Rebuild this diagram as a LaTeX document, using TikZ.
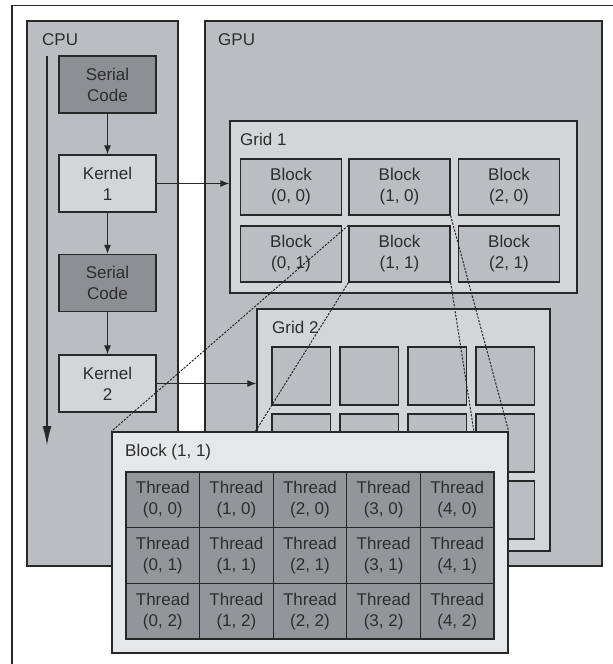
\documentclass[tikz,border=0pt]{standalone}
\usepackage{fontspec}
\setmainfont{Liberation Sans}
\usetikzlibrary{arrows.meta,calc}
\definecolor{panelfill}{RGB}{188,189,192}
\definecolor{gridfill}{RGB}{212,213,215}
\definecolor{serialfill}{RGB}{142,143,146}
\definecolor{bigfill}{RGB}{230,231,232}
\definecolor{threadfill}{RGB}{147,149,152}
\definecolor{edge}{RGB}{40,40,40}
\definecolor{txt}{RGB}{45,45,45}
\tikzset{
  lbl/.style={font=\fontsize{17}{21}\selectfont, text=txt, inner sep=0pt, anchor=base west},
  box/.style={draw=edge, line width=1.3pt, inner sep=0pt, align=center,
    font=\fontsize{17}{21}\selectfont, text=txt},
  panelbox/.style={box, fill=panelfill},
  gridbox/.style={box, fill=gridfill},
  serialbox/.style={box, fill=serialfill, minimum width=97pt, minimum height=57pt},
  kernelbox/.style={box, fill=gridfill, minimum width=97pt, minimum height=57pt},
  blockbox/.style={box, fill=panelfill, minimum width=101pt, minimum height=56pt},
  sqbox/.style={box, fill=panelfill, minimum width=58.5pt, minimum height=58pt},
  bigbox/.style={box, fill=bigfill},
  threadbox/.style={box, fill=threadfill, minimum width=73.6pt, minimum height=55.7pt},
  conn/.style={draw=edge, line width=1.2pt, -{Latex[length=9pt,width=7pt]}},
  timeline/.style={draw=edge, line width=2pt, -{Latex[length=20pt,width=9pt]}},
  proj/.style={draw=edge, line width=1pt, dash pattern=on 2.2pt off 1.4pt}
}
\begin{document}
\begin{tikzpicture}[x=1pt,y=-1pt]
\useasboundingbox (0,0) rectangle (613,664);
\fill[white] (0,0) rectangle (613,664);
% outer frame (cropped at right and bottom)
\draw[edge, line width=1.2pt] (12,700) -- (12,5.5) -- (640,5.5);

% panels
\node[panelbox, minimum width=151pt, minimum height=545pt] (cpu) at (102.5,293.5) {};
\node[panelbox, minimum width=397pt, minimum height=545pt] (gpu) at (403.5,293.5) {};
\node[lbl] (cpulbl) at (42,45) {CPU};
\node[lbl] (gpulbl) at (218,45) {GPU};

% CPU code flow
\node[serialbox] (s1) at (107.5,84.5) {Serial\\Code};
\node[kernelbox] (k1) at (107.5,183.5) {Kernel\\1};
\node[serialbox] (s2) at (107.5,283) {Serial\\Code};
\node[kernelbox] (k2) at (107.5,383.5) {Kernel\\2};
\draw[conn] (s1) -- (k1);
\draw[conn] (k1) -- (s2);
\draw[conn] (s2) -- (k2);
\coordinate (tl0) at (47,56);
\coordinate (tl1) at (47,446);
\draw[timeline] (tl0) -- (tl1);

% Grid 1
\node[gridbox, minimum width=347pt, minimum height=172pt] (g1) at (403.5,207) {};
\node[lbl] (g1lbl) at (240,145) {Grid 1};
\foreach \i/\x in {0/291,1/399.5,2/509}{
  \foreach \j/\y in {0/187,1/254}{
    \node[blockbox] (b\i\j) at (\x,\y) {Block\\(\i, \j)};
  }
}

% Grid 2
\node[gridbox, minimum width=293pt, minimum height=242pt] (g2) at (403.5,430) {};
\node[lbl] (g2lbl) at (272,333) {Grid 2};
\foreach \i/\x in {0/301.25,1/369.25,2/437.25,3/505.25}{
  \foreach \j/\y in {0/376,1/443,2/510}{
    \node[sqbox] (q\i\j) at (\x,\y) {};
  }
}

% kernel launches
\draw[conn] (k1.east) -- (k1.east -| g1.west);
\draw[conn] (k2.east) -- (k2.east -| g2.west);

% Block (1, 1) detail
\node[bigbox, minimum width=396pt, minimum height=221pt] (big) at (310,542.5) {};
\node[lbl] (biglbl) at (125,456) {Block (1, 1)};
\foreach \i in {0,...,4}{
  \foreach \j in {0,1,2}{
    \node[threadbox] (t\i\j) at ({162.8+73.6*\i},{499.85+55.7*\j}) {Thread\\(\i, \j)};
  }
}

% projection lines
\coordinate (p2) at (255,432);
\coordinate (p3) at (474,432);
\draw[proj] (b11.north west) -- (big.north west);
\draw[proj] (b11.south west) -- (p2);
\draw[proj] (b10.south east) -- (big.north east);
\draw[proj] (b11.south east) -- (p3);
\end{tikzpicture}
\end{document}
